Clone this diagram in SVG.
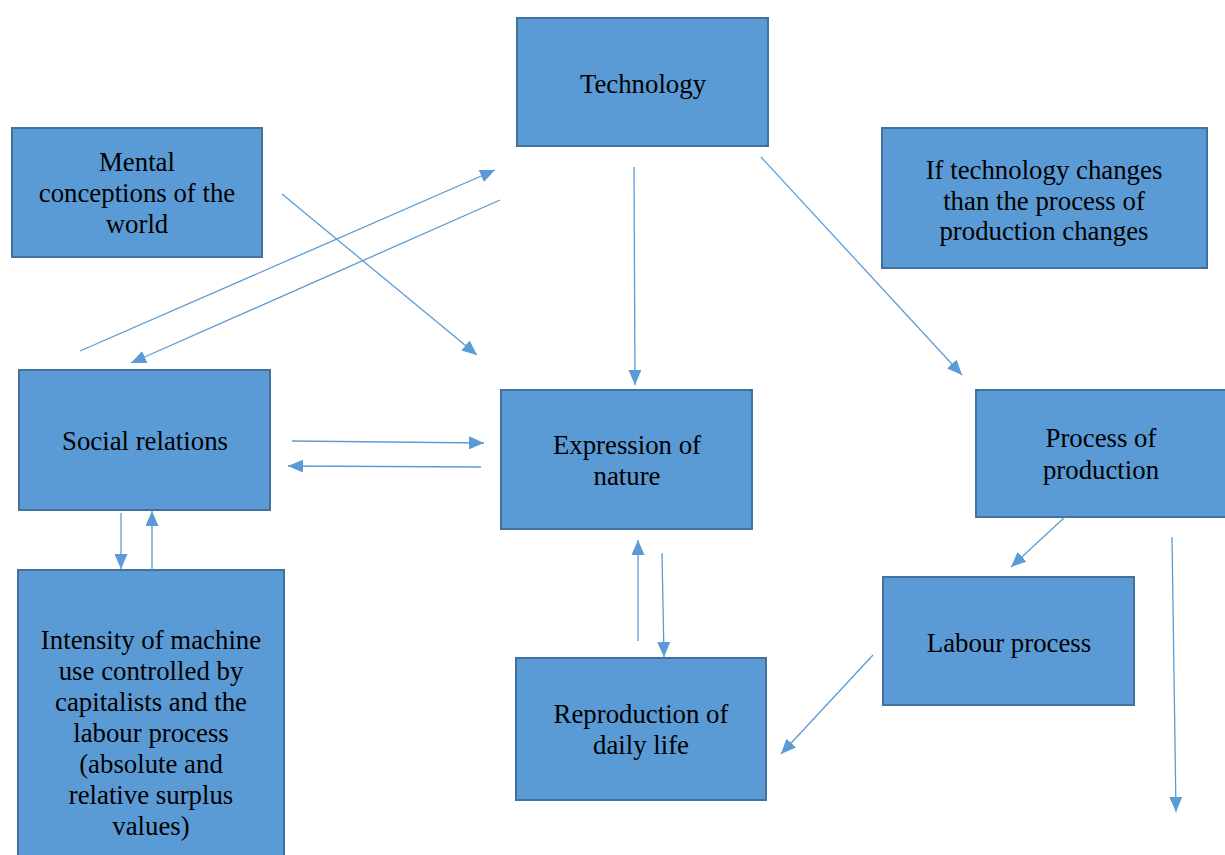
<svg xmlns="http://www.w3.org/2000/svg" width="1225" height="855" viewBox="0 0 1225 855">
  <defs>
    <style>
      .box { fill: #5B9BD5; stroke: #41719C; stroke-width: 2; }
      .lbl { font-family: "Liberation Serif", "Times New Roman", serif; font-size: 26.8px; fill: #000; text-anchor: middle; }
      .conn { stroke: #5B9BD5; stroke-width: 1.3; fill: none; marker-end: url(#arrow); }
    </style>
    <marker id="arrow" viewBox="0 0 15 13" refX="15" refY="6.5" markerUnits="userSpaceOnUse" markerWidth="15" markerHeight="13" orient="auto">
      <path d="M0,0 L15,6.5 L0,13 Z" fill="#5B9BD5"/>
    </marker>
  </defs>
  <rect width="1225" height="855" fill="#ffffff"/>

  <g id="technology">
    <rect class="box" x="517" y="18" width="251" height="128"/>
    <text class="lbl" x="643" y="93">Technology</text>
  </g>
  <g id="mental-conceptions">
    <rect class="box" x="12" y="128" width="250" height="129"/>
    <text class="lbl" x="137" y="171">Mental</text>
    <text class="lbl" x="137" y="202">conceptions of the</text>
    <text class="lbl" x="137" y="233">world</text>
  </g>
  <g id="technology-note">
    <rect class="box" x="882" y="128" width="325" height="140"/>
    <text class="lbl" x="1044" y="179">If technology changes</text>
    <text class="lbl" x="1044" y="210">than the process of</text>
    <text class="lbl" x="1044" y="240">production changes</text>
  </g>
  <g id="social-relations">
    <rect class="box" x="19" y="370" width="251" height="140"/>
    <text class="lbl" x="145" y="450">Social relations</text>
  </g>
  <g id="expression-of-nature">
    <rect class="box" x="501" y="390" width="251" height="139"/>
    <text class="lbl" x="627" y="454">Expression of</text>
    <text class="lbl" x="627" y="485">nature</text>
  </g>
  <g id="process-of-production">
    <rect class="box" x="976" y="390" width="252" height="127"/>
    <text class="lbl" x="1101" y="447">Process of</text>
    <text class="lbl" x="1101" y="479">production</text>
  </g>
  <g id="labour-process">
    <rect class="box" x="883" y="577" width="251" height="128"/>
    <text class="lbl" x="1009" y="652">Labour process</text>
  </g>
  <g id="reproduction-of-daily-life">
    <rect class="box" x="516" y="658" width="250" height="142"/>
    <text class="lbl" x="641" y="723">Reproduction of</text>
    <text class="lbl" x="641" y="754">daily life</text>
  </g>
  <g id="intensity-of-machine-use">
    <rect class="box" x="18" y="570" width="266" height="295"/>
    <text class="lbl" x="151" y="649">Intensity of machine</text>
    <text class="lbl" x="151" y="680">use controlled by</text>
    <text class="lbl" x="151" y="711">capitalists and the</text>
    <text class="lbl" x="151" y="742">labour process</text>
    <text class="lbl" x="151" y="773">(absolute and</text>
    <text class="lbl" x="151" y="804">relative surplus</text>
    <text class="lbl" x="151" y="835">values)</text>
  </g>

  <g id="connectors">
    <line class="conn" x1="80" y1="351" x2="495" y2="170"/>
    <line class="conn" x1="500" y1="200" x2="131" y2="363"/>
    <line class="conn" x1="282" y1="194" x2="477" y2="355"/>
    <line class="conn" x1="634" y1="167" x2="635" y2="385"/>
    <line class="conn" x1="761" y1="157" x2="962" y2="375"/>
    <line class="conn" x1="292" y1="441" x2="484" y2="443"/>
    <line class="conn" x1="481" y1="467" x2="288" y2="466"/>
    <line class="conn" x1="121" y1="513" x2="121" y2="569"/>
    <line class="conn" x1="152" y1="570" x2="152" y2="511"/>
    <line class="conn" x1="638" y1="641" x2="638" y2="540"/>
    <line class="conn" x1="662" y1="553" x2="664" y2="657"/>
    <line class="conn" x1="1065" y1="517" x2="1011" y2="567"/>
    <line class="conn" x1="873" y1="655" x2="781" y2="754"/>
    <line class="conn" x1="1172" y1="537" x2="1176" y2="812"/>
  </g>
</svg>
